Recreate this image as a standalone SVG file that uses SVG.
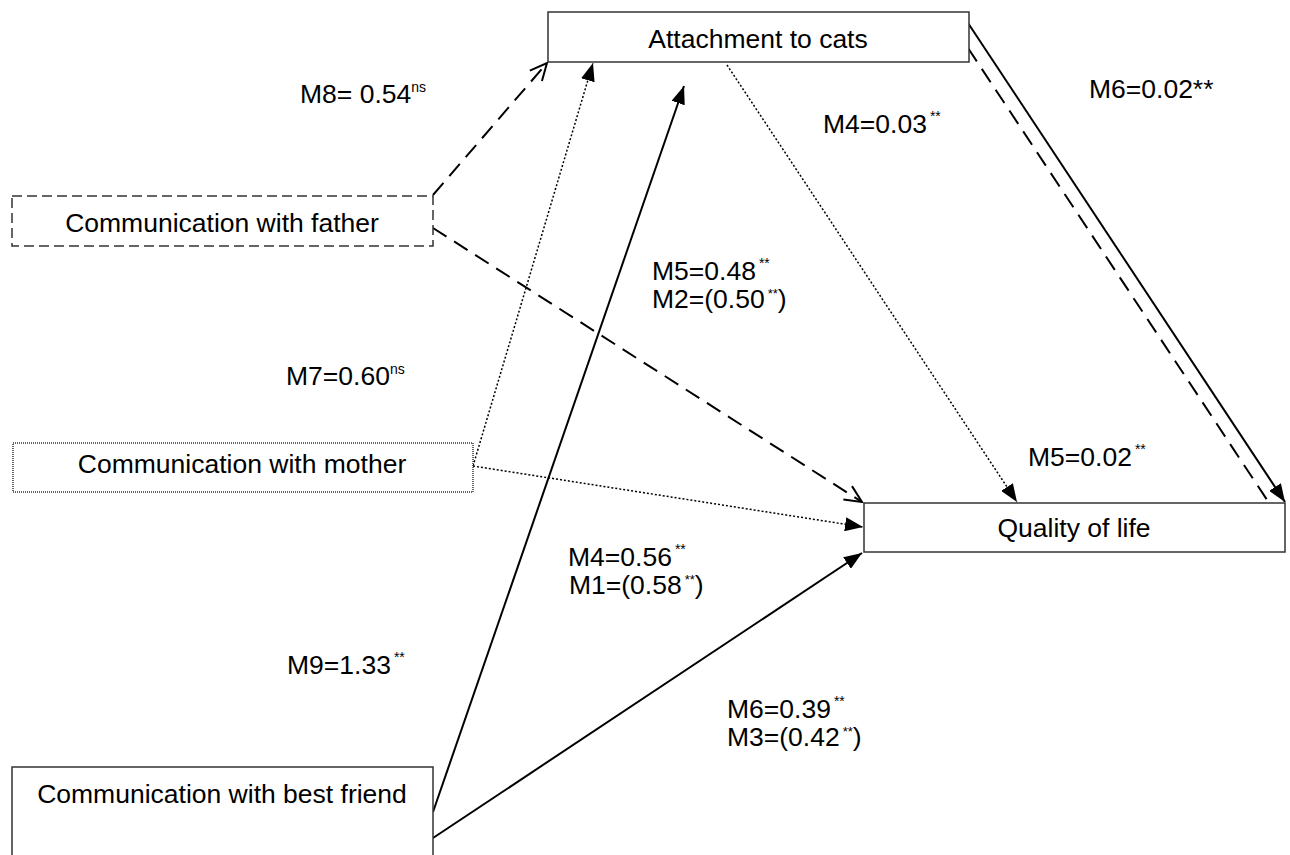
<svg xmlns="http://www.w3.org/2000/svg" width="1290" height="855" viewBox="0 0 1290 855">
<style>
.box{fill:#fff;stroke:#333;stroke-width:1.5}
.lbl{font-family:"Liberation Sans",Arial,sans-serif;font-size:26.5px;fill:#000}
.node{font-family:"Liberation Sans",Arial,sans-serif;font-size:26.5px;fill:#000;text-anchor:middle}
.sup{font-size:14px}
.sup2{font-size:13px}
.c{fill:none;stroke:#000;stroke-width:2}
.dash{stroke-dasharray:16 9}
.dot{stroke-width:1.5;stroke-dasharray:2 2}
</style>
<defs>
<marker id="fa" markerUnits="userSpaceOnUse" markerWidth="20" markerHeight="14" refX="18" refY="7" orient="auto">
<path d="M0,0 L18,7 L0,14 z" fill="#000"/>
</marker>
<marker id="oa" markerUnits="userSpaceOnUse" markerWidth="22" markerHeight="18" refX="18" refY="9" orient="auto">
<path d="M1,1 L18,9 L1,17" fill="none" stroke="#000" stroke-width="2"/>
</marker>
</defs>
<rect width="1290" height="855" fill="#fff"/>
<g id="connectors">
<line class="c dash" x1="433" y1="195" x2="547" y2="63" marker-end="url(#oa)"/>
<line class="c dash" x1="433" y1="228" x2="862" y2="502" marker-end="url(#oa)"/>
<line class="c dot" x1="473" y1="466" x2="593" y2="63" marker-end="url(#fa)"/>
<line class="c dot" x1="473" y1="466" x2="863" y2="527" marker-end="url(#fa)"/>
<line class="c dot" x1="727" y1="65" x2="1017" y2="502" marker-end="url(#fa)"/>
<line class="c" x1="968" y1="23" x2="1285" y2="502" marker-end="url(#fa)"/>
<line class="c dash" x1="968" y1="48" x2="1283" y2="524" marker-end="url(#oa)"/>
<line class="c" x1="433" y1="812" x2="684" y2="86" marker-end="url(#fa)"/>
<line class="c" x1="433" y1="838" x2="862" y2="553" marker-end="url(#fa)"/>
</g>
<g id="attachment">
<rect class="box" x="548" y="12" width="421" height="50"/>
<text class="node" x="758" y="48">Attachment to cats</text>
</g>
<g id="father">
<rect class="box" x="12" y="196" width="421" height="50" stroke="#000" stroke-width="1.8" stroke-dasharray="10 5"/>
<text class="node" x="222" y="232">Communication with father</text>
</g>
<g id="mother">
<rect class="box" x="13" y="443" width="460" height="49" stroke-dasharray="1 1"/>
<text class="node" x="242" y="473">Communication with mother</text>
</g>
<g id="quality">
<rect class="box" x="864" y="503" width="421" height="49" stroke="#555"/>
<text class="node" x="1074" y="537">Quality of life</text>
</g>
<g id="friend">
<rect class="box" x="12" y="767" width="421" height="110"/>
<text class="node" x="222" y="803">Communication with best friend</text>
</g>
<g id="labels">
<text class="lbl" x="300" y="103">M8= 0.54<tspan class="sup" dy="-11">ns</tspan></text>
<text class="lbl" x="1089" y="98">M6=0.02**</text>
<text class="lbl" x="823" y="133">M4=0.03<tspan class="sup" dx="3" dy="-12">**</tspan></text>
<text class="lbl" x="652" y="280">M5=0.48<tspan class="sup" dx="3" dy="-12">**</tspan></text>
<text class="lbl" x="652" y="308">M2=(0.50<tspan class="sup2" dx="3" dy="-10">**</tspan><tspan dy="10">)</tspan></text>
<text class="lbl" x="286" y="385">M7=0.60<tspan class="sup" dy="-11">ns</tspan></text>
<text class="lbl" x="1028" y="466">M5=0.02<tspan class="sup" dx="3" dy="-12">**</tspan></text>
<text class="lbl" x="568" y="566">M4=0.56<tspan class="sup" dx="3" dy="-12">**</tspan></text>
<text class="lbl" x="569" y="594">M1=(0.58<tspan class="sup2" dx="3" dy="-10">**</tspan><tspan dy="10">)</tspan></text>
<text class="lbl" x="287" y="674">M9=1.33<tspan class="sup" dx="3" dy="-12">**</tspan></text>
<text class="lbl" x="727" y="718">M6=0.39<tspan class="sup" dx="3" dy="-12">**</tspan></text>
<text class="lbl" x="727" y="746">M3=(0.42<tspan class="sup2" dx="3" dy="-10">**</tspan><tspan dy="10">)</tspan></text>
</g>
</svg>
